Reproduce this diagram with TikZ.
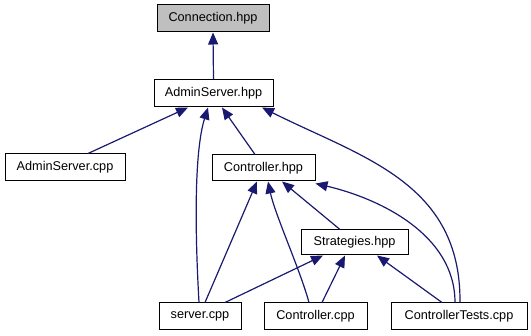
\documentclass[tikz,border=0pt]{standalone}
\usepackage{fontspec}
\setmainfont{Liberation Sans}
\usetikzlibrary{arrows.meta}
\definecolor{edgeblue}{HTML}{191970}
\definecolor{rootgray}{HTML}{BFBFBF}
\tikzset{
  file/.style={draw=black, fill=white, line width=1pt, inner sep=0pt,
    minimum height=27pt, font=\fontsize{12.7}{14}\selectfont},
  rootfile/.style={file, fill=rootgray},
  dep/.style={draw=edgeblue, line width=1.2pt,
    -{Triangle[length=12pt,width=10pt]}},
}
\begin{document}
\begin{tikzpicture}[x=1pt,y=-1pt]
\path[use as bounding box] (0,0) rectangle (531,336);

% file nodes
\node[rootfile, minimum width=112pt] (conn)    at (213,18.5)   {Connection.hpp};
\node[file, minimum width=119pt]     (ashpp)   at (213.5,93.5) {AdminServer.hpp};
\node[file, minimum width=120pt]     (ascpp)   at (65,167.5)   {AdminServer.cpp};
\node[file, minimum width=103pt, minimum height=26pt] (ctrlhpp) at (263.5,168) {Controller.hpp};
\node[file, minimum width=107pt, minimum height=25pt] (strat)   at (354.5,242.5) {Strategies.hpp};
\node[file, minimum width=82pt]      (server)  at (200,316.5)  {server.cpp};
\node[file, minimum width=103pt]     (ctrlcpp) at (315.5,316.5) {Controller.cpp};
\node[file, minimum width=136pt]     (tests)   at (459,316.5)  {ControllerTests.cpp};

% include edges (arrow points at the included file)
\draw[dep] (ashpp.north) -- (conn.south);
\draw[dep] ([xshift=23pt]ascpp.north) -- ([xshift=-25.5pt]ashpp.south);
\draw[dep] ([xshift=-1pt]server.north) .. controls +(-4,-70) and +(-14,45) .. ([xshift=-5.5pt]ashpp.south);
\draw[dep] ([xshift=-8.5pt]ctrlhpp.north) -- ([xshift=8.5pt]ashpp.south);
\draw[dep] ([xshift=1pt]tests.north) .. controls +(1,-120) and +(100,50) .. ([xshift=48.5pt]ashpp.south);

\draw[dep] ([xshift=5pt]server.north) -- ([xshift=-6.5pt]ctrlhpp.south);
\draw[dep] ([xshift=-6.5pt]ctrlcpp.north) .. controls +(-9,-33) and +(7,33) .. ([xshift=4.5pt]ctrlhpp.south);
\draw[dep] ([xshift=-14.5pt]strat.north) -- ([xshift=18.5pt]ctrlhpp.south);
\draw[dep] ([xshift=-4pt]tests.north) .. controls +(0,-68) and +(64,15) .. ([yshift=-2pt]ctrlhpp.south east);

\draw[dep] ([xshift=25pt]server.north) -- ([xshift=-31.5pt]strat.south);
\draw[dep] ([xshift=6.5pt]ctrlcpp.north) -- ([xshift=-9.5pt]strat.south);
\draw[dep] ([xshift=-17pt]tests.north) -- ([xshift=22.5pt]strat.south);
\end{tikzpicture}
\end{document}
